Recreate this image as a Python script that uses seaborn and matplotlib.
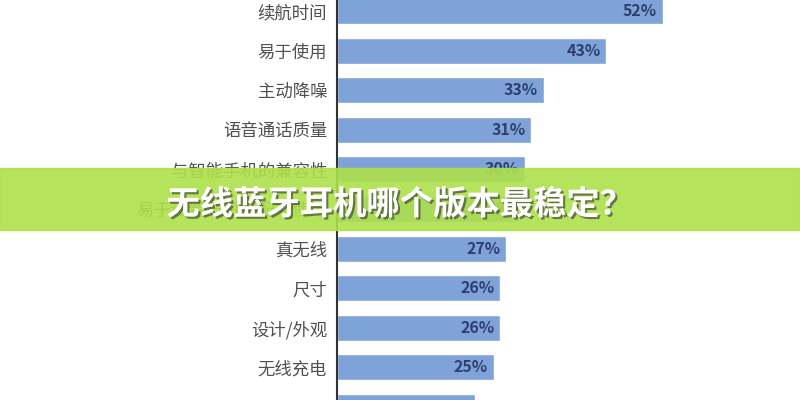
import pandas as pd
import seaborn as sns
import matplotlib.pyplot as plt
import matplotlib.patheffects as pe
from matplotlib.patches import Rectangle

# values (last row is cut off at the bottom)
features = ["续航时间", "易于使用", "主动降噪", "语音通话质量", "与智能手机的兼容性",
            "易于设置与设备配对使用", "真无线", "尺寸", "设计/外观", "无线充电", "耐用性/防水"]
shares = [52, 43, 33, 31, 30, 29, 27, 26, 26, 25, 22]
title = "无线蓝牙耳机哪个版本最稳定？"

df = pd.DataFrame({"feature": features, "share": shares})

sns.set_style("white")
plt.rcParams['font.family'] = ['Noto Sans CJK SC', 'DejaVu Sans']

fig = plt.figure(figsize=(8, 4), dpi=100)
ax = fig.add_axes([337 / 800, 0, 463 / 800, 1])

sns.barplot(data=df, x="share", y="feature", color="#7fa3d9", width=0.66,
            saturation=1, ax=ax)

px_per_pct = 6.26
ax.set_xlim(0, 463 / px_per_pct)
ax.set_ylim(389 / 39.6, -11 / 39.6)

for i, v in enumerate(shares):
    ax.text(v - 0.9, i, f"{v}%", ha="right", va="center", fontsize=11.5,
            fontweight="bold", color="#2e3f6e")

ax.set_xlabel("")
ax.set_ylabel("")
ax.set_xticks([])
ax.tick_params(axis="y", length=0, pad=7, labelsize=12.5, labelcolor="#505050")
for s in ["top", "right", "bottom"]:
    ax.spines[s].set_visible(False)
ax.spines["left"].set_color("#333333")
ax.spines["left"].set_linewidth(1.5)

# green banner over the middle of the picture
fig.patches.append(Rectangle((0, 1 - 230 / 400), 1, 62 / 400, transform=fig.transFigure,
                             color="#ade04a", alpha=0.9, zorder=5))
fig.text(0.5, 1 - 205 / 400, title, ha="center", va="center", fontsize=24,
         fontweight="bold", color="white", zorder=6,
         path_effects=[pe.withSimplePatchShadow(offset=(1.5, -1.5), shadow_rgbFace="#333333", alpha=0.6)])

fig.savefig("out.png", dpi=100)
